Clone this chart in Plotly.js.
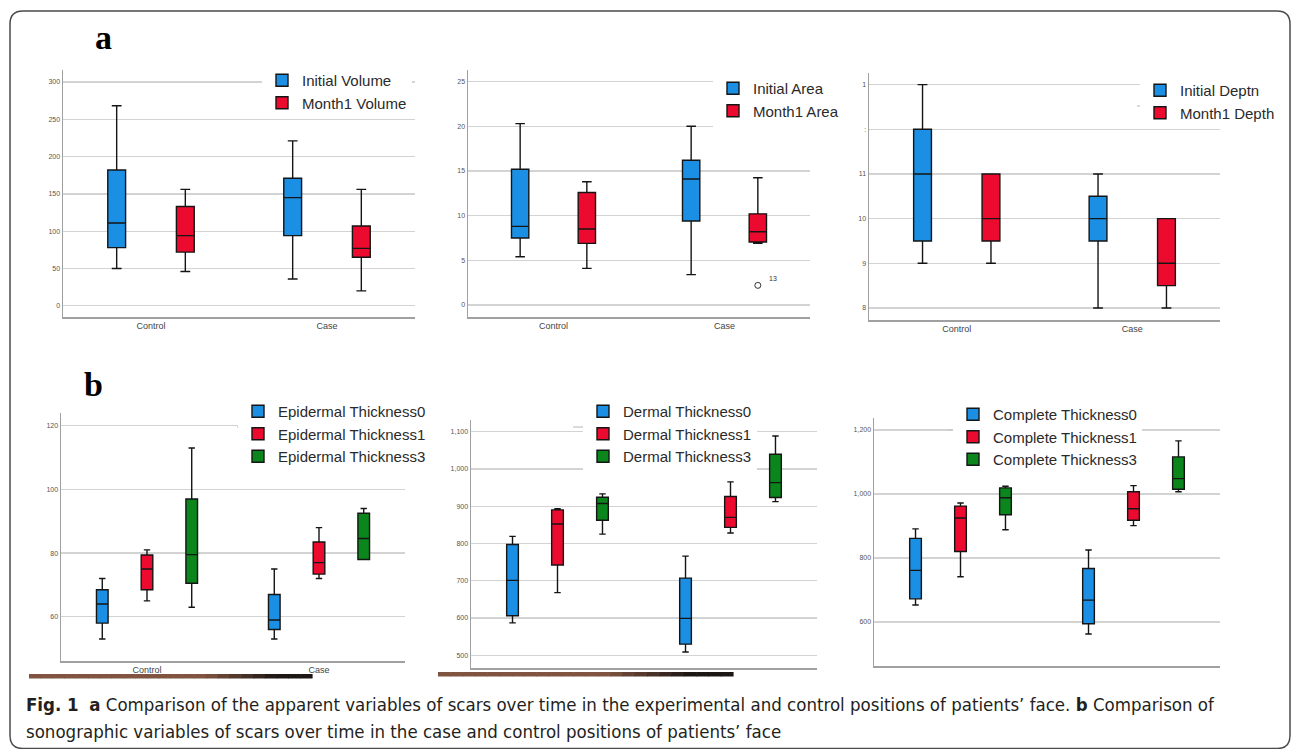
<!DOCTYPE html>
<html>
<head>
<meta charset="utf-8">
<script src="https://cdn.plot.ly/plotly-3.0.1.min.js"></script>
<style>
  html, body { margin: 0; padding: 0; background: #ffffff; }
  #chart { width: 1293px; height: 749px; }
</style>
</head>
<body>
<div id="chart"></div>
<script>
// ---------------- DATA ----------------
// categories on every x axis
const categories = ['Control', 'Case'];
// five-number summaries per group: [lower whisker, Q1, median, Q3, upper whisker]

// (a) Volume
const initialVolumeControl = [50, 78, 111, 182, 268];
const initialVolumeCase    = [36, 94, 145, 171, 221];
const month1VolumeControl  = [46, 72, 94, 133, 156];
const month1VolumeCase     = [20, 65, 77, 107, 156];

// (a) Area
const initialAreaControl = [5.4, 7.5, 8.8, 15.2, 20.3];
const initialAreaCase    = [3.4, 9.4, 14.1, 16.2, 20.0];
const month1AreaControl  = [4.1, 6.9, 8.5, 12.6, 13.8];
const month1AreaCase     = [6.9, 7.05, 8.2, 10.2, 14.25];
const month1AreaOutlierCategory = 'Case';
const month1AreaOutlierValue = [2.2];
const outlierLabel = '13';

// (a) Depth
const initialDepthControl = [9, 9.5, 11, 12, 13];
const initialDepthCase    = [8, 9.5, 10, 10.5, 11];
const month1DepthControl  = [9, 9.5, 10, 11, 11];
const month1DepthCase     = [8, 8.5, 9, 10, 10];
const depthTickVals = [8, 9, 10, 11, 12, 13];
const depthTickText = ['8', '9', '10', '11', ':', '1'];

// (b) Epidermal thickness
const epi0Control = [53, 58, 64, 68.5, 72];
const epi0Case    = [53, 56, 59, 67, 75];
const epi1Control = [65, 68.5, 75, 79.4, 81];
const epi1Case    = [72, 73.4, 77, 83.5, 88];
const epi3Control = [63, 70.5, 79.5, 97, 113];
const epi3Case    = [78, 78, 84.6, 92.5, 94];

// (b) Dermal thickness
const der0Control = [587, 606, 701, 797, 819];
const der0Case    = [509, 530, 599, 707, 766];
const der1Control = [668, 742, 852, 890, 893];
const der1Case    = [828, 843, 870, 926, 965];
const der3Control = [825, 862, 907, 924, 933];
const der3Case    = [912, 923, 963, 1039, 1088];

// (b) Complete thickness
const com0Control = [653, 672, 761, 861, 891];
const com0Case    = [562, 594, 668, 767, 825];
const com1Control = [741, 820, 925, 962, 972];
const com1Case    = [901, 918, 954, 1007, 1026];
const com3Control = [888, 935, 988, 1019, 1024];
const com3Case    = [1007, 1015, 1048, 1116, 1166];

// series names
const namesVolume = ['Initial Volume', 'Month1 Volume'];
const namesArea = ['Initial Area', 'Month1 Area'];
const namesDepth = ['Initial Deptn', 'Month1 Depth'];
const namesEpi = ['Epidermal Thickness0', 'Epidermal Thickness1', 'Epidermal Thickness3'];
const namesDer = ['Dermal Thickness0', 'Dermal Thickness1', 'Dermal Thickness3'];
const namesCom = ['Complete Thickness0', 'Complete Thickness1', 'Complete Thickness3'];

const captionLine1 = '<b>Fig. 1</b>  <b>a</b> Comparison of the apparent variables of scars over time in the experimental and control positions of patients’ face. <b>b</b> Comparison of';
const captionLine2 = 'sonographic variables of scars over time in the case and control positions of patients’ face';

// ---------------- STYLE / LAYOUT ----------------
const W = 1293, H = 749;
const px = x => x / W;
const py = y => 1 - y / H;

const BLUE = '#1b8fe3', RED = '#ec0b2f', GREEN = '#0b861c';
const FONT = 'Liberation Sans, Arial, sans-serif';
const BOXGAP = 0.22, BOXGROUPGAP = 0.74;

function boxTrace(name, ctrl, cas, color, n, slot) {
  const sfx = n > 1 ? String(n) : '';
  return {
    type: 'box', orientation: 'v', name: name,
    x: categories,
    lowerfence: [ctrl[0], cas[0]],
    q1: [ctrl[1], cas[1]],
    median: [ctrl[2], cas[2]],
    q3: [ctrl[3], cas[3]],
    upperfence: [ctrl[4], cas[4]],
    xaxis: 'x' + sfx, yaxis: 'y' + sfx,
    legend: 'legend' + sfx,
    alignmentgroup: 'panel' + n, offsetgroup: 'g' + slot,
    fillcolor: color,
    line: { color: '#151515', width: 1.4 },
    whiskerwidth: 0.55,
    boxpoints: false,
    hoverinfo: 'skip'
  };
}

// horizontal offset (in category units) of box `slot` among `num` grouped boxes
function groupOffset(slot, num) {
  return (-0.5 + (slot + 0.5) / num) * (1 - BOXGAP);
}
const outlierX = [categories.indexOf(month1AreaOutlierCategory) + groupOffset(1, 2)];

const data = [
  boxTrace(namesVolume[0], initialVolumeControl, initialVolumeCase, BLUE, 1, 0),
  boxTrace(namesVolume[1], month1VolumeControl, month1VolumeCase, RED, 1, 1),
  boxTrace(namesArea[0], initialAreaControl, initialAreaCase, BLUE, 2, 0),
  boxTrace(namesArea[1], month1AreaControl, month1AreaCase, RED, 2, 1),
  boxTrace(namesDepth[0], initialDepthControl, initialDepthCase, BLUE, 3, 0),
  boxTrace(namesDepth[1], month1DepthControl, month1DepthCase, RED, 3, 1),
  boxTrace(namesEpi[0], epi0Control, epi0Case, BLUE, 4, 0),
  boxTrace(namesEpi[1], epi1Control, epi1Case, RED, 4, 1),
  boxTrace(namesEpi[2], epi3Control, epi3Case, GREEN, 4, 2),
  boxTrace(namesDer[0], der0Control, der0Case, BLUE, 5, 0),
  boxTrace(namesDer[1], der1Control, der1Case, RED, 5, 1),
  boxTrace(namesDer[2], der3Control, der3Case, GREEN, 5, 2),
  boxTrace(namesCom[0], com0Control, com0Case, BLUE, 6, 0),
  boxTrace(namesCom[1], com1Control, com1Case, RED, 6, 1),
  boxTrace(namesCom[2], com3Control, com3Case, GREEN, 6, 2),
  {
    type: 'scatter', mode: 'markers', x: outlierX, y: month1AreaOutlierValue,
    xaxis: 'x7', yaxis: 'y2', showlegend: false, hoverinfo: 'skip',
    marker: { symbol: 'circle-open', size: 6, color: '#333', line: { width: 1 } }
  }
];

// panel frames in pixels: x from axis line to end, y top/bottom; legend top-left
const panels = [
  { x: [63, 415],  y: [70, 317],  range: [-15, 316],    dtick: 50,  showX: true,  leg: [262, 64] },
  { x: [468, 810], y: [70, 317],  range: [-1.34, 26.3], dtick: 5,   showX: true,  leg: [713, 72] },
  { x: [869, 1220],y: [73, 320],  range: [7.73, 13.26], dtick: 1,   showX: true,  leg: [1140, 74] },
  { x: [61, 405],  y: [413, 661], range: [46.1, 124],   dtick: 20,  showX: true,  leg: [238, 395] },
  { x: [471, 817], y: [420, 668], range: [466, 1131],   dtick: 100, showX: false, leg: [583, 395] },
  { x: [874, 1220],y: [418, 666], range: [462, 1237.6], dtick: 200, showX: false, leg: [953, 398] }
];

const layout = {
  width: W, height: H,
  margin: { l: 0, r: 0, t: 0, b: 0 },
  paper_bgcolor: '#ffffff', plot_bgcolor: 'rgba(0,0,0,0)',
  boxmode: 'group', boxgap: BOXGAP, boxgroupgap: BOXGROUPGAP,
  showlegend: true,
  font: { family: FONT, color: '#333' },
  annotations: [], shapes: []
};

panels.forEach((p, i) => {
  const n = i + 1, sfx = n > 1 ? String(n) : '';
  layout['xaxis' + sfx] = {
    domain: [px(p.x[0]), px(p.x[1])],
    anchor: 'y' + sfx,
    type: 'category',
    showline: true, linecolor: '#a0a0a0', linewidth: 1.5,
    showgrid: false, zeroline: false, ticks: '',
    showticklabels: p.showX,
    tickfont: { family: FONT, size: 9, color: '#444' },
    fixedrange: true
  };
  const ya = {
    domain: [py(p.y[1]), py(p.y[0])],
    anchor: 'x' + sfx,
    range: p.range,
    dtick: p.dtick, tick0: 0,
    showline: true, linecolor: '#a0a0a0', linewidth: 1.5,
    showgrid: true, gridcolor: '#d3d3d3', gridwidth: 1.3,
    zeroline: false, ticks: '',
    tickfont: { family: FONT, size: 7, color: '#555' },
    tickformat: ',d',
    fixedrange: true
  };
  if (n === 2) ya.tickformat = '';
  if (n === 3) { ya.tickmode = 'array'; ya.tickvals = depthTickVals; ya.ticktext = depthTickText; }
  layout['yaxis' + sfx] = ya;
  layout['legend' + sfx] = {
    x: px(p.leg[0]), y: py(p.leg[1]), xanchor: 'left', yanchor: 'top',
    bgcolor: '#ffffff', borderwidth: 0,
    font: { family: FONT, size: 15, color: '#2a2a2a' },
    tracegroupgap: 0, itemclick: false
  };
});

// hidden linear axis over panel 2 (same span as its category axis) for the outlier point
layout.xaxis7 = { overlaying: 'x2', anchor: 'y2', range: [-0.5, 1.5], visible: false, fixedrange: true };

// outlier label
layout.annotations.push({
  xref: 'x7', yref: 'y2', x: outlierX[0], y: month1AreaOutlierValue[0],
  text: outlierLabel, showarrow: false, xshift: 15, yshift: 7,
  xanchor: 'center', yanchor: 'middle',
  font: { family: FONT, size: 7, color: '#333' }
});

// panel letters
layout.annotations.push(
  { xref: 'paper', yref: 'paper', x: px(103), y: py(38), xanchor: 'center', yanchor: 'middle',
    text: '<b>a</b>', showarrow: false,
    font: { family: 'Liberation Serif, Times New Roman, serif', size: 34, color: '#000' } },
  { xref: 'paper', yref: 'paper', x: px(93), y: py(384), xanchor: 'center', yanchor: 'middle',
    text: '<b>b</b>', showarrow: false,
    font: { family: 'Liberation Serif, Times New Roman, serif', size: 34, color: '#000' } }
);

// caption
const CAPFONT = 'DejaVu Sans Condensed, Liberation Sans Narrow, sans-serif';
layout.annotations.push(
  { xref: 'paper', yref: 'paper', x: px(24), y: py(704), xanchor: 'left', yanchor: 'middle',
    text: captionLine1, showarrow: false, font: { family: CAPFONT, size: 18.5, color: '#231f20' } },
  { xref: 'paper', yref: 'paper', x: px(24), y: py(731), xanchor: 'left', yanchor: 'middle',
    text: captionLine2, showarrow: false, font: { family: CAPFONT, size: 18.5, color: '#231f20' } }
);

// legend frame artifacts (short grey strokes at legend edges)
[[265, 280, 94], [716, 732, 102], [1137, 1160, 106], [237, 257, 427], [573, 603, 427], [948, 972, 430]]
  .forEach(s => layout.shapes.push({
    type: 'line', xref: 'paper', yref: 'paper', x0: px(s[0]), x1: px(s[1]), y0: py(s[2]), y1: py(s[2]),
    line: { color: '#c8c8c8', width: 1.3 }, layer: 'above'
  }));

// scanning bars under panels b1, b2 (brown -> black)
function bar(x0, x1, y0, y1, darkFrom) {
  const segs = 24;
  for (let k = 0; k < segs; k++) {
    const t = k / segs;
    const a = x0 + (x1 - x0) * t, b = x0 + (x1 - x0) * (t + 1 / segs) + 0.6;
    let r = 128, g = 84, bl = 64;
    if (t > darkFrom) {
      const u = Math.min(1, (t - darkFrom) / (1 - darkFrom) * 1.6);
      r = Math.round(r + (28 - r) * u); g = Math.round(g + (22 - g) * u); bl = Math.round(bl + (20 - bl) * u);
    }
    layout.shapes.push({ type: 'rect', xref: 'paper', yref: 'paper',
      x0: px(a), x1: px(b), y0: py(y1), y1: py(y0),
      fillcolor: `rgb(${r},${g},${bl})`, line: { width: 0 }, layer: 'above' });
  }
}
bar(29, 312, 674, 678.5, 0.6);
bar(438, 733, 672, 676.5, 0.55);

// outer rounded frame
(function () {
  const x0 = px(10), x1 = px(1290), yT = py(11), yB = py(748.5);
  const rx = px(13), ry = 13 / H;
  const path = `M ${x0 + rx} ${yT} L ${x1 - rx} ${yT} Q ${x1} ${yT} ${x1} ${yT - ry} L ${x1} ${yB + ry} ` +
    `Q ${x1} ${yB} ${x1 - rx} ${yB} L ${x0 + rx} ${yB} Q ${x0} ${yB} ${x0} ${yB + ry} L ${x0} ${yT - ry} Q ${x0} ${yT} ${x0 + rx} ${yT} Z`;
  layout.shapes.push({ type: 'path', xref: 'paper', yref: 'paper', path: path,
    line: { color: '#4a4a4a', width: 1.5 }, fillcolor: 'rgba(0,0,0,0)', layer: 'above' });
})();

Plotly.newPlot('chart', data, layout, { staticPlot: true, displayModeBar: false });
</script>
</body>
</html>
